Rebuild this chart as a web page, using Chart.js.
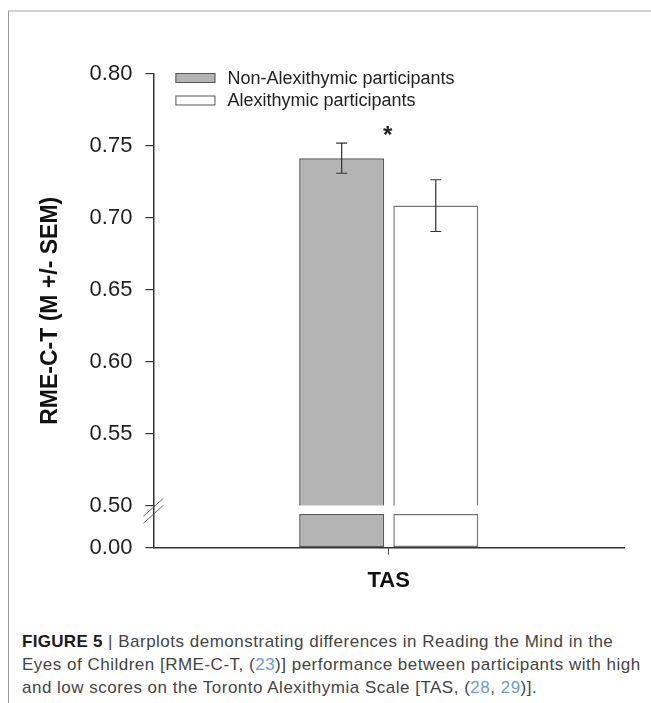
<!DOCTYPE html>
<html>
<head>
<meta charset="utf-8">
<script src="https://cdn.jsdelivr.net/npm/chart.js@4.4.1/dist/chart.umd.min.js"></script>
<style>
    html, body { margin: 0; padding: 0; background: #fff; }
    body { width: 651px; height: 703px; position: relative; overflow: hidden; }
    .frame {
        position: absolute; left: 8px; top: 10px; right: 0; bottom: 0;
        border-top: 2px solid #d2d2d2; border-left: 1px solid #9a9a9a;
    }
    .chart-box { position: absolute; left: 0; top: 0; width: 651px; height: 615px; }
    .caption {
        position: absolute; left: 22px; top: 630px; white-space: nowrap;
        font-family: "Liberation Sans", Arial, sans-serif; font-size: 17px;
        letter-spacing: 0.5px; line-height: 23px; color: #444;
    }
    .caption b { color: #1a1a1a; letter-spacing: 0.3px; }
    .caption .ref { color: #6f9ccb; }
</style>
</head>
<body>
<div class="frame"></div>
<div class="chart-box"><canvas id="rmeChart"></canvas></div>
<div class="caption">
    <b>FIGURE 5</b> | Barplots demonstrating differences in Reading the Mind in the<br>
    Eyes of Children [RME-C-T, (<span class="ref">23</span>)] performance between participants with high<br>
    and low scores on the Toronto Alexithymia Scale [TAS, (<span class="ref">28</span>, <span class="ref">29</span>)].
</div>

<script>
// data
const categories = ["TAS"];
const groupLabels = ["Non-Alexithymic participants", "Alexithymic participants"];
const nonAlexMean = [0.7415];
const nonAlexSem = [0.0105];
const alexMean = [0.7085];
const alexSem = [0.018];
const upperTicks = [0.50, 0.55, 0.60, 0.65, 0.70, 0.75, 0.80];
const lowerTicks = [0.00];

// axis break: lower panel runs 0 .. 0.50, stubs stop short of it
const BREAK_TOP = 0.50;
const STUB_TOP = 0.40;
const SIG_LEVEL = 0.757;

const fonts = "'Liberation Sans', Arial, sans-serif";
const ink = "#222";

const stub = (arr) => arr.map((v) => Math.min(v, STUB_TOP));

// error bars, significance star and axis-break marks
const annotations = {
    id: "annotations",
    afterDatasetsDraw(chart) {
        const { ctx, scales } = chart;
        const yHigh = scales.yHigh;
        const sems = [nonAlexSem, alexSem];
        const means = [nonAlexMean, alexMean];
        ctx.save();
        ctx.strokeStyle = "#333";
        ctx.lineWidth = 1.2;
        [0, 1].forEach((di) => {
            const meta = chart.getDatasetMeta(di);
            meta.data.forEach((bar, i) => {
                const top = yHigh.getPixelForValue(means[di][i] + sems[di][i]);
                const bot = yHigh.getPixelForValue(means[di][i] - sems[di][i]);
                ctx.beginPath();
                ctx.moveTo(bar.x, top);
                ctx.lineTo(bar.x, bot);
                ctx.moveTo(bar.x - 5.5, top);
                ctx.lineTo(bar.x + 5.5, top);
                ctx.moveTo(bar.x - 5.5, bot);
                ctx.lineTo(bar.x + 5.5, bot);
                ctx.stroke();
            });
        });

        // star between the bars
        ctx.fillStyle = ink;
        ctx.font = "bold 24px " + fonts;
        ctx.textAlign = "center";
        ctx.textBaseline = "middle";
        categories.forEach((c, i) => {
            ctx.fillText("*", scales.x.getPixelForValue(i) - 1, yHigh.getPixelForValue(SIG_LEVEL) + 1);
        });

        // break marks on the y axis
        const ax = chart.chartArea.left;
        const yc = (yHigh.getPixelForValue(BREAK_TOP) + scales.yLow.getPixelForValue(STUB_TOP)) / 2 + 1;
        ctx.strokeStyle = "#666";
        ctx.lineWidth = 1;
        [-3.5, 3.5].forEach((d) => {
            ctx.beginPath();
            ctx.moveTo(ax - 10, yc + d + 9);
            ctx.lineTo(ax + 10, yc + d - 9);
            ctx.stroke();
        });
        ctx.restore();
    },
};

// legend inside the plot area, top-left
const insideLegend = {
    id: "insideLegend",
    afterDraw(chart) {
        const { ctx, chartArea } = chart;
        const x0 = chartArea.left + 22;
        let y = chartArea.top + 4;
        ctx.save();
        ctx.font = "18px " + fonts;
        ctx.textBaseline = "middle";
        ctx.textAlign = "left";
        groupLabels.forEach((label, i) => {
            const ds = chart.data.datasets[i];
            ctx.fillStyle = ds.backgroundColor;
            ctx.strokeStyle = "#555";
            ctx.lineWidth = 1;
            ctx.fillRect(x0, y - 5, 40, 10);
            ctx.strokeRect(x0 + 0.5, y - 4.5, 39, 9);
            ctx.fillStyle = ink;
            ctx.fillText(label, x0 + 52, y + 1);
            y += 22.5;
        });
        ctx.restore();
    },
};

const barStyle = {
    borderWidth: 1.5,
    borderSkipped: false,
    categoryPercentage: 0.4,
    barPercentage: 0.9025,
};

const ctx = document.getElementById("rmeChart");
new Chart(ctx, {
    type: "bar",
    data: {
        labels: categories,
        datasets: [
            { label: groupLabels[0], data: nonAlexMean, yAxisID: "yHigh", stack: "non",
              backgroundColor: "#b4b4b4", borderColor: "#5a5a5a", ...barStyle },
            { label: groupLabels[1], data: alexMean, yAxisID: "yHigh", stack: "alex",
              backgroundColor: "#ffffff", borderColor: "#777777", ...barStyle },
            { label: groupLabels[0], data: stub(nonAlexMean), yAxisID: "yLow", stack: "non",
              backgroundColor: "#b4b4b4", borderColor: "#5a5a5a", ...barStyle },
            { label: groupLabels[1], data: stub(alexMean), yAxisID: "yLow", stack: "alex",
              backgroundColor: "#ffffff", borderColor: "#777777", ...barStyle },
        ],
    },
    options: {
        responsive: true,
        maintainAspectRatio: false,
        animation: false,
        layout: { padding: { left: 37, top: 74, right: 27, bottom: 8 } },
        plugins: {
            legend: { display: false },
            tooltip: { enabled: false },
        },
        scales: {
            x: {
                grid: { offset: false, drawOnChartArea: false, tickLength: 7, color: "#444", lineWidth: 1 },
                border: { color: "#333", width: 1.5 },
                ticks: { color: "#111", padding: 13, font: { family: fonts, size: 22, weight: "bold" } },
            },
            yLow: {
                position: "left",
                stack: "left",
                stackWeight: 42,
                stacked: false,
                min: 0,
                max: BREAK_TOP,
                afterBuildTicks: (s) => { s.ticks = lowerTicks.map((v) => ({ value: v })); },
                grid: { drawOnChartArea: false, tickLength: 8, color: "#333", lineWidth: 1.2 },
                border: { color: "#333", width: 1.5 },
                ticks: { color: ink, padding: 13, font: { family: fonts, size: 22 },
                         callback: (v) => Number(v).toFixed(2) },
            },
            yHigh: {
                position: "left",
                stack: "left",
                stackWeight: 431,
                stacked: false,
                min: upperTicks[0],
                max: upperTicks[upperTicks.length - 1],
                afterBuildTicks: (s) => { s.ticks = upperTicks.map((v) => ({ value: v })); },
                grid: { drawOnChartArea: false, tickLength: 8, color: "#333", lineWidth: 1.2 },
                border: { color: "#333", width: 1.5 },
                ticks: { color: ink, padding: 13, font: { family: fonts, size: 22 },
                         callback: (v) => Number(v).toFixed(2) },
            },
            yTitle: {
                position: "left",
                weight: 10,
                grid: { display: false, drawTicks: false },
                border: { display: false },
                ticks: { display: false },
                title: {
                    display: true,
                    text: "RME-C-T (M +/- SEM)",
                    color: "#111",
                    padding: { top: 0, bottom: 12 },
                    font: { family: fonts, size: 23, weight: "bold" },
                },
            },
        },
    },
    plugins: [annotations, insideLegend],
});
</script>
</body>
</html>
